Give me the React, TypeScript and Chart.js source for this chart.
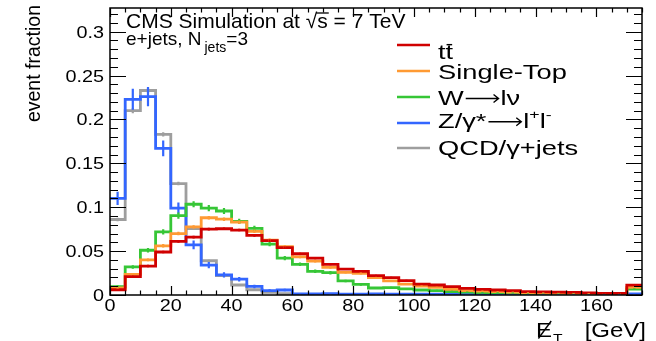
import React, { useEffect, useRef } from "react";
import { Chart, registerables } from "chart.js";

Chart.register(...registerables);

// ---- data (bin lower edges in GeV, 5 GeV bins, last bin = overflow 170-175) ----
const binEdges = [0, 5, 10, 15, 20, 25, 30, 35, 40, 45, 50, 55, 60, 65, 70, 75, 80, 85, 90, 95, 100, 105, 110, 115, 120, 125, 130, 135, 140, 145, 150, 155, 160, 165, 170, 175];

const ttbar = [0.006, 0.021, 0.033, 0.049, 0.061, 0.066, 0.075, 0.0755, 0.074, 0.068, 0.062, 0.054, 0.047, 0.042, 0.035, 0.0295, 0.027, 0.022, 0.0197, 0.0163, 0.0125, 0.0114, 0.0095, 0.0076, 0.0064, 0.0057, 0.005, 0.0038, 0.0036, 0.0032, 0.003, 0.0025, 0.0018, 0.0018, 0.0112];
const singleTop = [0.008, 0.0235, 0.04, 0.056, 0.07, 0.0776, 0.088, 0.0864, 0.083, 0.0725, 0.0625, 0.055, 0.0435, 0.0386, 0.0314, 0.0258, 0.0246, 0.0197, 0.016, 0.0125, 0.01, 0.0087, 0.0064, 0.005, 0.0045, 0.0038, 0.0034, 0.0027, 0.0024, 0.0022, 0.002, 0.0018, 0.0016, 0.0016, 0.0087];
const wJets = [0.0095, 0.032, 0.051, 0.072, 0.0905, 0.1034, 0.099, 0.0957, 0.084, 0.076, 0.058, 0.042, 0.035, 0.027, 0.0254, 0.016, 0.012, 0.008, 0.0083, 0.007, 0.0057, 0.005, 0.004, 0.0034, 0.0027, 0.0027, 0.0025, 0.002, 0.002, 0.0018, 0.0018, 0.0016, 0.0015, 0.0015, 0.0068];
const zJets = [0.11, 0.223, 0.226, 0.167, 0.099, 0.057, 0.034, 0.023, 0.018, 0.0098, 0.005, 0.0057, 0.0013, 0.0012, 0.0015, 0.001, 0.001, 0.0012, 0.001, 0.001, 0.0011, 0.001, 0.0009, 0.0009, 0.001, 0.0009, 0.0008, 0.0008, 0.0009, 0.0008, 0.0008, 0.0008, 0.0007, 0.0007, 0.0012];
const qcd = [0.086, 0.21, 0.233, 0.183, 0.127, 0.0757, 0.039, 0.022, 0.0114, 0.006, 0.003, 0.0015, 0.0008, 0.0006, 0.0005, 0.0005, 0.0005, 0.0005, 0.0005, 0.0005, 0.0005, 0.0005, 0.0005, 0.0005, 0.0005, 0.0005, 0.0005, 0.0005, 0.0005, 0.0005, 0.0005, 0.0005, 0.0005, 0.0005, 0.0005];

const ttbarErr = [0.001, 0.0015, 0.0015, 0.0015, 0.0015, 0.0015, 0.0015, 0.0015, 0.0015, 0.0015, 0.0015, 0.0015, 0.0012, 0.0012, 0.0012, 0.001, 0.001, 0.001, 0.001, 0.001, 0.0008, 0.0008, 0.0008, 0.0008, 0.0008, 0.0006, 0.0006, 0.0006, 0.0006, 0.0006, 0.0006, 0.0006, 0.0006, 0.0006, 0.0008];
const singleTopErr = [0.001, 0.0015, 0.0015, 0.002, 0.002, 0.002, 0.002, 0.002, 0.002, 0.002, 0.0018, 0.0018, 0.0015, 0.0015, 0.0015, 0.0012, 0.0012, 0.001, 0.001, 0.001, 0.0008, 0.0008, 0.0008, 0.0008, 0.0006, 0.0006, 0.0006, 0.0006, 0.0006, 0.0006, 0.0006, 0.0006, 0.0006, 0.0006, 0.0008];
const wJetsErr = [0.0015, 0.002, 0.0025, 0.003, 0.0035, 0.0035, 0.0035, 0.0035, 0.003, 0.003, 0.0025, 0.0025, 0.002, 0.002, 0.002, 0.0015, 0.0015, 0.0012, 0.0012, 0.001, 0.001, 0.001, 0.0008, 0.0008, 0.0008, 0.0008, 0.0008, 0.0006, 0.0006, 0.0006, 0.0006, 0.0006, 0.0006, 0.0006, 0.0008];
const zJetsErr = [0.0075, 0.012, 0.011, 0.009, 0.0065, 0.005, 0.0035, 0.003, 0.0025, 0.002, 0.0015, 0.0015, 0.0008, 0.0008, 0.0008, 0.0006, 0.0006, 0.0006, 0.0006, 0.0006, 0.0006, 0.0006, 0.0006, 0.0006, 0.0006, 0.0006, 0.0006, 0.0006, 0.0006, 0.0006, 0.0006, 0.0006, 0.0006, 0.0006, 0.0006];
const qcdErr = [0.002, 0.003, 0.003, 0.0025, 0.002, 0.0015, 0.0012, 0.001, 0.001, 0.0008, 0.0006, 0.0006, 0.0005, 0.0005, 0.0005, 0.0005, 0.0005, 0.0005, 0.0005, 0.0005, 0.0005, 0.0005, 0.0005, 0.0005, 0.0005, 0.0005, 0.0005, 0.0005, 0.0005, 0.0005, 0.0005, 0.0005, 0.0005, 0.0005, 0.0005];

const yTickValues = [0, 0.05, 0.1, 0.15, 0.2, 0.25, 0.3];
const yTickLabels = ["0", "0.05", "0.1", "0.15", "0.2", "0.25", "0.3"];
const xTickValues = [0, 20, 40, 60, 80, 100, 120, 140, 160];
const xTickLabels = ["0", "20", "40", "60", "80", "100", "120", "140", "160"];

const X_MAX = 175;
const Y_MAX = 0.327;

type Seg = { t: string; k?: "n" | "sup" | "sub" | "arrow" | "bar" };

const SERIES = [
  { name: "ttbar", values: ttbar, errors: ttbarErr, color: "#d00000", legend: [{ t: "t" }, { t: "t", k: "bar" }] as Seg[] },
  { name: "Single-Top", values: singleTop, errors: singleTopErr, color: "#ff9a33", legend: [{ t: "Single-Top" }] as Seg[] },
  { name: "W", values: wJets, errors: wJetsErr, color: "#36c636", legend: [{ t: "W" }, { t: "", k: "arrow" }, { t: "l\u03bd" }] as Seg[] },
  { name: "Z", values: zJets, errors: zJetsErr, color: "#3366ff", legend: [{ t: "Z/\u03b3*" }, { t: "", k: "arrow" }, { t: "l" }, { t: "+", k: "sup" }, { t: "l" }, { t: "-", k: "sup" }] as Seg[] },
  { name: "QCD", values: qcd, errors: qcdErr, color: "#9e9e9e", legend: [{ t: "QCD/\u03b3+jets" }] as Seg[] },
];

const FONT = '"Liberation Sans", Arial, Helvetica, sans-serif';

function txt(ctx: CanvasRenderingContext2D, s: string, x: number, y: number, size: number, sx = 1, align: CanvasTextAlign = "left") {
  ctx.save();
  ctx.font = `${size}px ${FONT}`;
  ctx.textAlign = align;
  ctx.textBaseline = "alphabetic";
  ctx.translate(x, y);
  ctx.scale(sx, 1);
  ctx.fillText(s, 0, 0);
  const w = ctx.measureText(s).width * sx;
  ctx.restore();
  return w;
}

function drawRich(ctx: CanvasRenderingContext2D, segs: Seg[], x: number, base: number, size: number, sx: number) {
  let cx = x;
  for (const s of segs) {
    if (s.k === "arrow") {
      const w = size * 1.35 * sx;
      const y = base - size * 0.32;
      ctx.save();
      ctx.strokeStyle = "#000";
      ctx.lineWidth = 1.4;
      ctx.beginPath();
      ctx.moveTo(cx + 2, y);
      ctx.lineTo(cx + w - 2, y);
      ctx.moveTo(cx + w - 7, y - 4);
      ctx.lineTo(cx + w - 2, y);
      ctx.lineTo(cx + w - 7, y + 4);
      ctx.stroke();
      ctx.restore();
      cx += w;
      continue;
    }
    const small = s.k === "sup" || s.k === "sub";
    const sz = small ? size * 0.65 : size;
    const dy = s.k === "sup" ? -size * 0.45 : s.k === "sub" ? size * 0.32 : 0;
    const w = txt(ctx, s.t, cx, base + dy, sz, sx);
    if (s.k === "bar") {
      ctx.save();
      ctx.strokeStyle = "#000";
      ctx.lineWidth = 1.4;
      ctx.beginPath();
      ctx.moveTo(cx + 1, base - size * 0.7);
      ctx.lineTo(cx + w - 1, base - size * 0.7);
      ctx.stroke();
      ctx.restore();
    }
    cx += w;
  }
  return cx - x;
}

const rootPlugin = {
  id: "rootStyle",
  afterDatasetsDraw(chart: any) {
    const ctx: CanvasRenderingContext2D = chart.ctx;
    const xs = chart.scales.x;
    const ys = chart.scales.y;
    const area = chart.chartArea;
    ctx.save();
    ctx.beginPath();
    ctx.rect(area.left, area.top, area.right - area.left, area.bottom - area.top);
    ctx.clip();
    for (let k = SERIES.length - 1; k >= 0; k--) {
      const s = SERIES[k];
      ctx.strokeStyle = s.color;
      ctx.lineWidth = 2.2;
      ctx.beginPath();
      s.values.forEach((v, i) => {
        const xc = xs.getPixelForValue((binEdges[i] + binEdges[i + 1]) / 2);
        const e = s.errors[i];
        ctx.moveTo(xc, ys.getPixelForValue(v - e));
        ctx.lineTo(xc, ys.getPixelForValue(v + e));
      });
      ctx.stroke();
    }
    ctx.restore();
  },
  afterDraw(chart: any) {
    const ctx: CanvasRenderingContext2D = chart.ctx;
    const xs = chart.scales.x;
    const ys = chart.scales.y;
    const a = chart.chartArea;
    ctx.save();
    ctx.strokeStyle = "#000";
    ctx.fillStyle = "#000";
    // frame
    ctx.lineWidth = 1.5;
    ctx.strokeRect(a.left, a.top, a.right - a.left, a.bottom - a.top);
    // ticks
    ctx.lineWidth = 1.2;
    ctx.beginPath();
    for (let v = 0; v <= Y_MAX + 1e-9; v += 0.01) {
      const y = Math.round(ys.getPixelForValue(v)) + 0.5;
      const major = Math.abs(v / 0.05 - Math.round(v / 0.05)) < 1e-6;
      const len = major ? 16 : 8;
      ctx.moveTo(a.left, y);
      ctx.lineTo(a.left + len, y);
      ctx.moveTo(a.right, y);
      ctx.lineTo(a.right - len, y);
    }
    for (let v = 0; v <= X_MAX + 1e-9; v += 5) {
      const x = Math.round(xs.getPixelForValue(v)) + 0.5;
      const major = v % 20 === 0;
      const len = major ? 9 : 4.5;
      ctx.moveTo(x, a.bottom);
      ctx.lineTo(x, a.bottom - len);
      ctx.moveTo(x, a.top);
      ctx.lineTo(x, a.top + len);
    }
    ctx.stroke();
    // tick labels
    yTickValues.forEach((v, i) => {
      txt(ctx, yTickLabels[i], 104, ys.getPixelForValue(v) + 6, 16.5, 1.2, "right");
    });
    xTickValues.forEach((v, i) => {
      txt(ctx, xTickLabels[i], xs.getPixelForValue(v), 310.5, 16.5, 1.2, "center");
    });
    // y title
    ctx.save();
    ctx.translate(40, 5);
    ctx.rotate(-Math.PI / 2);
    ctx.font = `19.5px ${FONT}`;
    ctx.textAlign = "right";
    ctx.fillText("event fraction", 0, 0);
    ctx.restore();
    // x title: E-slash_T [GeV]
    {
      const size = 20;
      const sx = 1.2;
      const base = 337;
      const x0 = 536;
      const wE = txt(ctx, "E", x0, base, size, sx);
      ctx.lineWidth = 1.4;
      ctx.beginPath();
      ctx.moveTo(x0 + wE * 0.15, base + 1.5);
      ctx.lineTo(x0 + wE * 0.95, base - size * 0.8);
      ctx.stroke();
      txt(ctx, "T", x0 + wE + 1, base + size * 0.3, size * 0.65, sx);
      txt(ctx, "[GeV]", 646, base, size, sx, "right");
    }
    // CMS title
    {
      const size = 21;
      let x = 126;
      const base = 28;
      x += txt(ctx, "CMS Simulation at ", x, base, size);
      const wr = txt(ctx, "\u221a", x, base, size);
      const ws = txt(ctx, "s", x + wr, base, size);
      ctx.lineWidth = 1.3;
      ctx.beginPath();
      ctx.moveTo(x + wr - 1, base - 15);
      ctx.lineTo(x + wr + ws + 1, base - 15);
      ctx.stroke();
      x += wr + ws;
      txt(ctx, " = 7 TeV", x, base, size);
      // second line
      let x2 = 126;
      const b2 = 45;
      x2 += txt(ctx, "e+jets, N", x2, b2, 19);
      x2 += txt(ctx, "jets", x2 + 3, b2 + 7, 14) + 3;
      txt(ctx, "=3", x2, b2, 19);
    }
    // legend
    const rowsLine = [45, 71, 97, 123, 148];
    const rowsBase = [59, 79.3, 105, 128.3, 155];
    SERIES.forEach((s, i) => {
      ctx.strokeStyle = s.color;
      ctx.lineWidth = 2.5;
      ctx.beginPath();
      ctx.moveTo(397, rowsLine[i]);
      ctx.lineTo(430, rowsLine[i]);
      ctx.stroke();
      ctx.fillStyle = "#000";
      drawRich(ctx, s.legend, 438, rowsBase[i], 20.5, 1.33);
    });
    ctx.restore();
  },
};

export default function App() {
  const ref = useRef<HTMLCanvasElement>(null);
  useEffect(() => {
    if (!ref.current) return;
    const datasets = SERIES.map((s) => ({
      label: s.name,
      data: binEdges.map((e, i) => ({ x: e, y: s.values[Math.min(i, s.values.length - 1)] })),
      borderColor: s.color,
      backgroundColor: s.color,
      borderWidth: 2.8,
      stepped: true as const,
      fill: false,
      pointRadius: 0,
      pointHoverRadius: 0,
    }));
    const chart = new Chart(ref.current, {
      type: "line",
      data: { datasets },
      options: {
        responsive: false,
        maintainAspectRatio: false,
        animation: false,
        devicePixelRatio: 1,
        layout: { padding: { left: 110, right: 14, top: 8, bottom: 46 } },
        scales: {
          x: { type: "linear", min: 0, max: X_MAX, display: false },
          y: { type: "linear", min: 0, max: Y_MAX, display: false },
        },
        plugins: { legend: { display: false }, tooltip: { enabled: false }, title: { display: false } },
        events: [],
      },
      plugins: [rootPlugin],
    });
    return () => chart.destroy();
  }, []);
  return (
    <div style={{ position: "fixed", left: 0, top: 0, width: 656, height: 341, background: "#fff" }}>
      <canvas ref={ref} width={656} height={341} style={{ display: "block", width: 656, height: 341 }} />
    </div>
  );
}
